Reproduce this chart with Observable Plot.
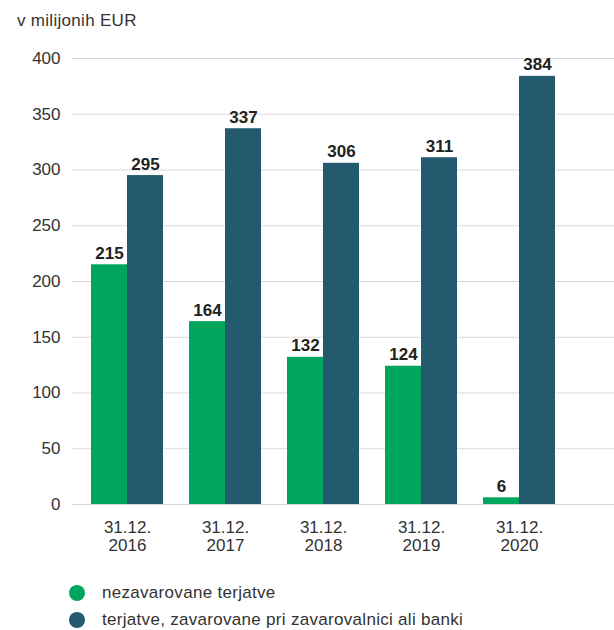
<!DOCTYPE html>
<html>
<head>
<meta charset="utf-8">
<script src="https://cdn.jsdelivr.net/npm/d3@7"></script>
<script src="https://cdn.jsdelivr.net/npm/@observablehq/plot@0.6"></script>
<style>
  html, body { margin: 0; padding: 0; background: #fff; }
  body { font-family: "Liberation Sans", Arial, Helvetica, sans-serif; color: #333; }
  #wrap { position: relative; width: 614px; height: 630px; overflow: hidden; }
  #title { position: absolute; left: 17px; top: 11px; font-size: 17px; letter-spacing: 0.3px; color: #333; }
  #chart { position: absolute; left: 0; top: 0; }
  #legend { position: absolute; left: 69px; top: 579px; font-size: 17px; letter-spacing: 0.3px; color: #333; }
  .item { display: flex; align-items: center; height: 27px; }
  .dot { width: 16px; height: 16px; border-radius: 50%; margin-right: 17px; }
</style>
</head>
<body>
<div id="wrap">
  <div id="chart"></div>
  <div id="title">v milijonih EUR</div>
  <div id="legend"></div>
</div>
<script>
const years = ["2016", "2017", "2018", "2019", "2020"];
const unsecured = [215, 164, 132, 124, 6];
const secured = [295, 337, 306, 311, 384];
const seriesNames = ["nezavarovane terjatve", "terjatve, zavarovane pri zavarovalnici ali banki"];
const seriesColors = ["#00a65d", "#235a6d"];
const yTicks = [0, 50, 100, 150, 200, 250, 300, 350, 400];

const rows = years.map((y, i) => ({year: y, unsecured: unsecured[i], secured: secured[i]}));

const chart = Plot.plot({
  width: 614,
  height: 565,
  marginTop: 58,
  marginBottom: 61,
  marginLeft: 72,
  marginRight: 40,
  style: {fontFamily: '"Liberation Sans", Arial, sans-serif', color: "#333", background: "transparent"},
  x: {type: "band", domain: years, paddingInner: 0.636, paddingOuter: 0.354, label: null},
  y: {domain: [0, 400], label: null},
  marks: [
    Plot.ruleY(yTicks, {stroke: "#d9d9d9", strokeWidth: 1.2, insetRight: -40}),
    Plot.barY(rows, {x: "year", y: "unsecured", fill: seriesColors[0], dx: -18}),
    Plot.barY(rows, {x: "year", y: "secured", fill: seriesColors[1], dx: 18}),
    Plot.text(rows, {x: "year", y: "unsecured", text: d => String(d.unsecured), dx: -18, dy: -6, lineAnchor: "bottom", fontWeight: "bold", fontSize: 17, fill: "#222"}),
    Plot.text(rows, {x: "year", y: "secured", text: d => String(d.secured), dx: 18, dy: -6, lineAnchor: "bottom", fontWeight: "bold", fontSize: 17, fill: "#222"}),
    Plot.axisY({ticks: yTicks, tickSize: 0, tickPadding: 12, fontSize: 17, label: null, fill: "#333"}),
    Plot.axisX({tickSize: 0, tickPadding: 15, fontSize: 17, lineHeight: 1.1, label: null, fill: "#333", tickFormat: d => "31.12.\n" + d})
  ]
});
document.getElementById("chart").appendChild(chart);

const legend = document.getElementById("legend");
seriesNames.forEach((name, i) => {
  const item = document.createElement("div");
  item.className = "item";
  const dot = document.createElement("span");
  dot.className = "dot";
  dot.style.background = seriesColors[i];
  const label = document.createElement("span");
  label.textContent = name;
  item.appendChild(dot);
  item.appendChild(label);
  legend.appendChild(item);
});
</script>
</body>
</html>
